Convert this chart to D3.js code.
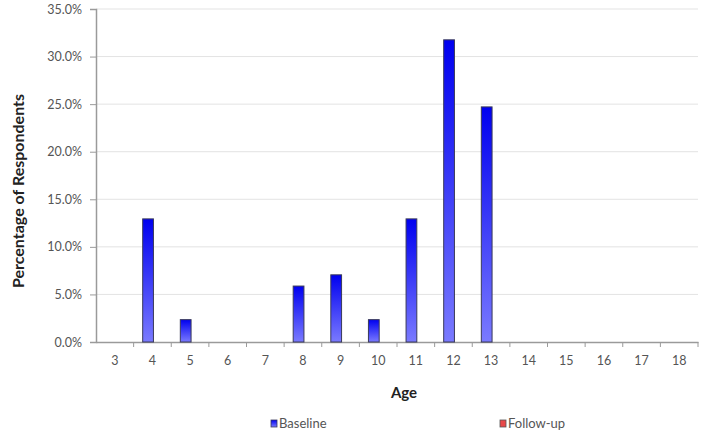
<!DOCTYPE html>
<html><head><meta charset="utf-8">
<script src="https://cdn.jsdelivr.net/npm/d3@7"></script>
<style>body{margin:0;background:#fff}svg{display:block}</style>
</head><body><svg id="c" width="707" height="434"></svg>
<script>
const ages = ["3","4","5","6","7","8","9","10","11","12","13","14","15","16","17","18"];
const baseline = [0,12.94,2.35,0,0,5.88,7.06,2.35,12.94,31.76,24.71,0,0,0,0,0];
const followup = [0,0,0,0,0,0,0,0,0,0,0,0,0,0,0,0];
const seriesNames = ["Baseline","Follow-up"];
const yTicks = [0,5,10,15,20,25,30,35];

const svg = d3.select("#c");
const m = {l:96, r:698, t:9, b:342};
const font = "Lato, 'Open Sans', sans-serif";
const x = d3.scaleBand().domain(ages).range([m.l, m.r]).padding(0);
const y = d3.scaleLinear().domain([0,35]).range([m.b, m.t]);

const defs = svg.append("defs");
const gb = defs.append("linearGradient").attr("id","gb").attr("x1",0).attr("y1",0).attr("x2",0).attr("y2",1);
gb.append("stop").attr("offset","0%").attr("stop-color","#0000f0");
gb.append("stop").attr("offset","100%").attr("stop-color","#7a7aff");

// grid
svg.append("g").selectAll("line").data(yTicks.filter(d=>d>0)).join("line")
  .attr("x1",m.l).attr("x2",m.r).attr("y1",d=>y(d)).attr("y2",d=>y(d))
  .attr("stroke","#e3e3e3").attr("stroke-width",1);

// y axis
const ya = svg.append("g").attr("transform",`translate(${m.l},0)`)
  .call(d3.axisLeft(y).tickValues(yTicks).tickSize(6).tickPadding(8).tickFormat(d=>d.toFixed(1)+"%"));
ya.select(".domain").attr("stroke","#9a9a9a").attr("stroke-width",1.5);
ya.selectAll(".tick line").attr("stroke","#9a9a9a");
ya.selectAll("text").attr("fill","#555").style("font-family",font).style("font-size","12.5px");

// x axis
const xa = svg.append("g").attr("transform",`translate(0,${m.b})`)
  .call(d3.axisBottom(x).tickSize(0).tickPadding(14));
xa.select(".domain").attr("stroke","#9a9a9a").attr("stroke-width",1.5);
xa.selectAll("text").attr("fill","#555").style("font-family",font).style("font-size","12.5px");
xa.selectAll(".bt").data(ages.slice(1).concat(["_end"])).join("line")
  .attr("x1",(d,i)=>m.l + x.step()*(i+1)).attr("x2",(d,i)=>m.l + x.step()*(i+1))
  .attr("y1",0).attr("y2",5).attr("stroke","#9a9a9a");

// bars
const bw = x.step()/3.5;
svg.append("g").selectAll("rect").data(baseline.map((v,i)=>({a:ages[i],v}))).join("rect")
  .filter(d=>d.v>0)
  .attr("x",d=>x(d.a)+x.step()/2 - bw + 1)
  .attr("width",bw)
  .attr("y",d=>y(d.v)).attr("height",d=>y(0)-y(d.v))
  .attr("fill","url(#gb)").attr("stroke","#3a3a5a").attr("stroke-width",1);
svg.append("g").selectAll("rect").data(followup.map((v,i)=>({a:ages[i],v}))).join("rect")
  .filter(d=>d.v>0)
  .attr("x",d=>x(d.a)+x.step()/2 + 1)
  .attr("width",bw)
  .attr("y",d=>y(d.v)).attr("height",d=>y(0)-y(d.v))
  .attr("fill","#e04040").attr("stroke","#3a3a3a");

// titles
svg.append("text").attr("transform","translate(24,191) rotate(-90)").attr("text-anchor","middle")
  .style("font-family",font).style("font-size","16px").style("font-weight","bold").attr("fill","#222")
  .text("Percentage of Respondents");
svg.append("text").attr("x",404).attr("y",398).attr("text-anchor","middle")
  .style("font-family",font).style("font-size","15px").style("font-weight","bold").attr("fill","#222")
  .text("Age");

// legend
const leg = [{n:seriesNames[0],x:271,fill:"url(#gb)",st:"#3a3a5a"},{n:seriesNames[1],x:500,fill:"#e84848",st:"#555"}];
const lg = svg.append("g").selectAll("g").data(leg).join("g").attr("transform",d=>`translate(${d.x},0)`);
lg.append("rect").attr("x",0).attr("y",420).attr("width",6).attr("height",7).attr("fill",d=>d.fill).attr("stroke",d=>d.st).attr("stroke-width",0.8);
lg.append("text").attr("x",8).attr("y",428).style("font-family",font).style("font-size","13px").attr("fill","#555").text(d=>d.n);
</script></body></html>
